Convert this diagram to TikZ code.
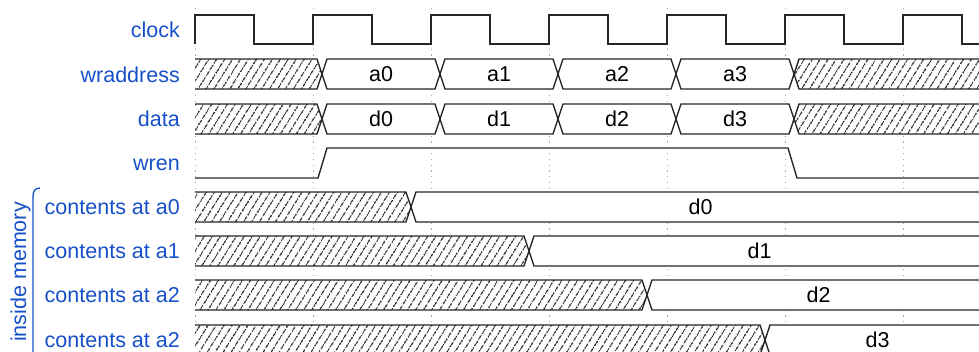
\documentclass[tikz,border=0pt]{standalone}
\usepackage{fontspec}
\setmainfont{Liberation Sans}
\usetikzlibrary{patterns.meta}
\definecolor{sigblue}{RGB}{22,80,200}

\begin{document}
\begin{tikzpicture}[x=1pt,y=-1pt,line join=miter]
        \tikzstyle{siglabel}=[anchor=base east,text=sigblue,font=\fontsize{21.5}{24}\selectfont,inner sep=0pt]
        \tikzstyle{value}=[anchor=base,font=\fontsize{21.5}{24}\selectfont,inner sep=0pt]
        \tikzstyle{wave}=[draw=black!85,line width=1.4pt]
        \tikzstyle{hatch}=[fill=white,postaction={pattern={Lines[angle=58,distance=6.5pt,line width=1.1pt]},pattern color=black!90}]
        \tikzstyle{grid}=[draw=black!35,line width=0.9pt,dash pattern=on 1.2pt off 4.6pt]
        \clip (0,0) rectangle (979,351);

        % dotted lines at the rising edges
        \foreach \x in {195,313,...,903}
          \draw[grid] (\x,8) -- (\x,351);

        % signal names
        \node[siglabel] (lclock) at (180,37) {clock};
        \node[siglabel] (lwraddr) at (180,82) {wraddress};
        \node[siglabel] (ldata) at (180,126.5) {data};
        \node[siglabel] (lwren) at (180,170.5) {wren};
        \node[siglabel] (lc0) at (180,214.5) {contents at a0};
        \node[siglabel] (lc1) at (180,258.5) {contents at a1};
        \node[siglabel] (lc2) at (180,302.5) {contents at a2};
        \node[siglabel] (lc3) at (180,347.5) {contents at a2};
        \node[siglabel,anchor=base,rotate=90] (lmem) at (26,272) {inside memory};
        \draw[sigblue,line width=1.3pt] (40,188) .. controls (35,188) and (33,191) .. (33,197) -- (33,380);

        % clock
        \draw[wave] (195,44) \foreach \x in {195,313,...,903} { -- (\x,15) -- (\x+59,15) -- (\x+59,44) -- (\x+118,44) };

        % address and data buses
        \foreach \m/\n in {74/a,119/d} {
          \path[hatch] (195,\m-15) -- (317,\m-15) -- (322,\m) -- (317,\m+15) -- (195,\m+15) -- cycle;
          \draw[wave] (195,\m-15) -- (317,\m-15) -- (322,\m) -- (317,\m+15) -- (195,\m+15);
          \foreach \i [evaluate=\i as \t using 322+118*\i] in {0,...,3} {
            \draw[wave,fill=white] (\t,\m) -- (\t+5,\m-15) -- (\t+113,\m-15) -- (\t+118,\m)
              -- (\t+113,\m+15) -- (\t+5,\m+15) -- cycle;
            \node[value] (\n\i) at (\t+59,\m+7.5) {\n\i};
          }
          \path[hatch] (794,\m) -- (799,\m-15) -- (990,\m-15) -- (990,\m+15) -- (799,\m+15) -- cycle;
          \draw[wave] (990,\m-15) -- (799,\m-15) -- (794,\m) -- (799,\m+15) -- (990,\m+15);
        }

        % write enable
        \draw[wave] (195,178) -- (318,178) -- (327,148) -- (788,148) -- (797,178) -- (979,178);

        % memory contents
        \foreach \m [count=\i from 0, evaluate=\i as \t using 411+118*\i] in {207,251,295,340} {
          \path[hatch] (195,\m-15) -- (\t-5,\m-15) -- (\t,\m) -- (\t-5,\m+15) -- (195,\m+15) -- cycle;
          \draw[wave] (195,\m-15) -- (\t-5,\m-15) -- (\t,\m) -- (\t-5,\m+15) -- (195,\m+15);
          \draw[wave,fill=white] (990,\m-15) -- (\t+5,\m-15) -- (\t,\m) -- (\t+5,\m+15) -- (990,\m+15);
          \node[value] (m\i) at (\t/2+495,\m+7.5) {d\i};
        }
\end{tikzpicture}
\end{document}
